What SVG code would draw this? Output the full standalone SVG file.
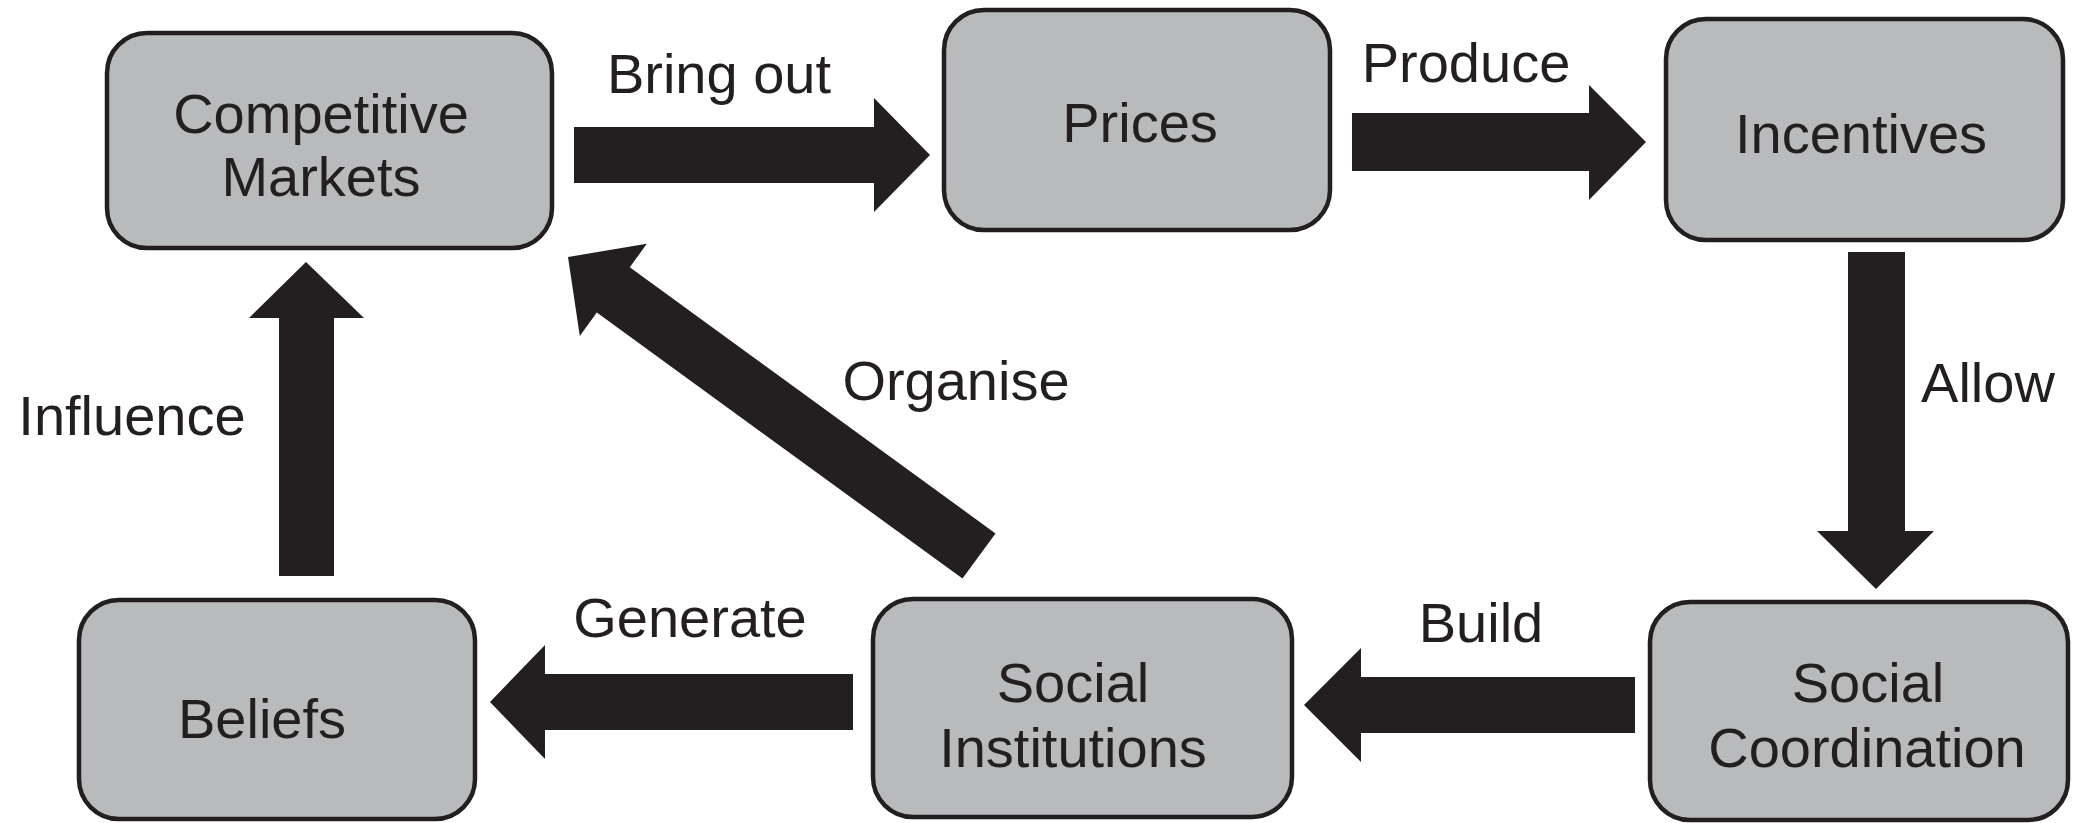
<svg xmlns="http://www.w3.org/2000/svg" width="2077" height="823" viewBox="0 0 2077 823">
<style>
.box{fill:#b9babc;stroke:#231f20;stroke-width:4.5}
.t{font-family:"Liberation Sans",Arial,sans-serif;font-size:56px;fill:#231f20;text-anchor:middle}
.a{fill:#231f20}
</style>
<rect width="2077" height="823" fill="#ffffff"/>
<g id="connectors">
<polygon id="e-bringout" class="a" points="574,127 874,127 874,98 930,155 874,212 874,183 574,183"/>
<polygon id="e-produce" class="a" points="1352,113 1589,113 1589,85 1646,142 1589,200 1589,171 1352,171"/>
<polygon id="e-allow" class="a" points="1848,252 1905,252 1905,531 1934,531 1876,589 1817,531 1848,531"/>
<polygon id="e-build" class="a" points="1635,677 1361,677 1361,648 1304,705 1361,762 1361,733 1635,733"/>
<polygon id="e-generate" class="a" points="853,674 545,674 545,645 490,702 545,759 545,730 853,730"/>
<polygon id="e-influence" class="a" points="279,576 279,318 249,318 306,262 364,318 334,318 334,576"/>
<polygon id="e-organise" class="a" points="568,257 646.8,243.8 629.8,267.3 995.5,533.4 962.5,578.6 596.8,312.5 579.8,336"/>
<text class="t" x="719" y="93">Bring out</text>
<text class="t" x="1466" y="82">Produce</text>
<text class="t" x="1988" y="402">Allow</text>
<text class="t" x="1481" y="642">Build</text>
<text class="t" x="690" y="637">Generate</text>
<text class="t" x="132" y="435">Influence</text>
<text class="t" x="956" y="400">Organise</text>
</g>
<g id="n-markets">
<rect class="box" x="107" y="33" width="445" height="215" rx="40"/>
<text class="t" x="321" y="133">Competitive</text>
<text class="t" x="321" y="196">Markets</text>
</g>
<g id="n-prices">
<rect class="box" x="944" y="10" width="386" height="220" rx="40"/>
<text class="t" x="1140" y="142">Prices</text>
</g>
<g id="n-incentives">
<rect class="box" x="1666" y="19" width="397" height="221" rx="40"/>
<text class="t" x="1861" y="153">Incentives</text>
</g>
<g id="n-coordination">
<rect class="box" x="1650" y="602" width="418" height="218" rx="40"/>
<text class="t" x="1868" y="702">Social</text>
<text class="t" x="1867" y="767">Coordination</text>
</g>
<g id="n-institutions">
<rect class="box" x="873" y="599" width="419" height="218" rx="40"/>
<text class="t" x="1073" y="702">Social</text>
<text class="t" x="1073" y="767">Institutions</text>
</g>
<g id="n-beliefs">
<rect class="box" x="79" y="600" width="396" height="219" rx="40"/>
<text class="t" x="262" y="738">Beliefs</text>
</g>
</svg>
